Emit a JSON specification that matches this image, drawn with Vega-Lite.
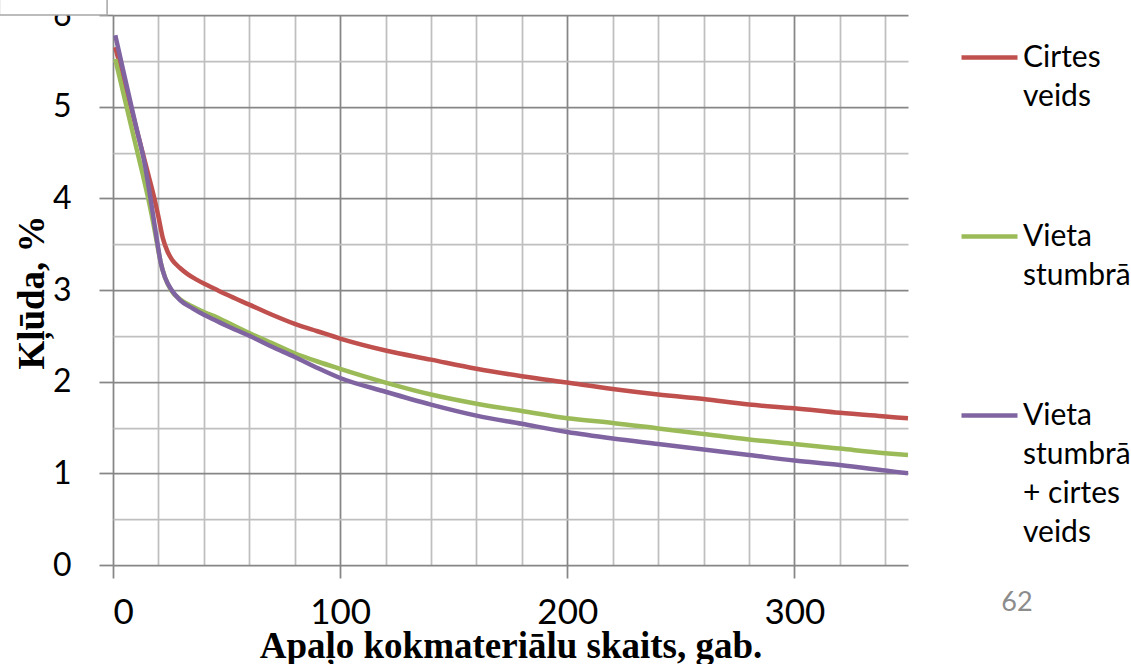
{
  "$schema": "https://vega.github.io/schema/vega-lite/v6.json",
  "width": 795,
  "height": 550,
  "autosize": "none",
  "padding": {"left": 113, "top": 15, "right": 223, "bottom": 99},
  "background": "white",
  "config": {
    "view": {"stroke": null},
    "axis": {
      "gridWidth": 1.75,
      "domain": false,
      "tickWidth": 1.75,
      "tickColor": "#868686",
      "labelFont": "Lato",
      "labelColor": "#000000",
      "titleFont": "Liberation Serif",
      "titleFontWeight": "bold",
      "titleColor": "#000000",
      "titleFontSize": 37
    }
  },
  "datasets": {
    "curves": [
      {"skaits": 1, "kluda": 5.65, "serija": "Cirtes veids"},
      {"skaits": 5, "kluda": 5.27, "serija": "Cirtes veids"},
      {"skaits": 10, "kluda": 4.79, "serija": "Cirtes veids"},
      {"skaits": 15, "kluda": 4.31, "serija": "Cirtes veids"},
      {"skaits": 18.4, "kluda": 3.98, "serija": "Cirtes veids"},
      {"skaits": 20, "kluda": 3.8, "serija": "Cirtes veids"},
      {"skaits": 22, "kluda": 3.56, "serija": "Cirtes veids"},
      {"skaits": 24, "kluda": 3.42, "serija": "Cirtes veids"},
      {"skaits": 26, "kluda": 3.33, "serija": "Cirtes veids"},
      {"skaits": 29.5, "kluda": 3.24, "serija": "Cirtes veids"},
      {"skaits": 33, "kluda": 3.17, "serija": "Cirtes veids"},
      {"skaits": 37, "kluda": 3.11, "serija": "Cirtes veids"},
      {"skaits": 40, "kluda": 3.07, "serija": "Cirtes veids"},
      {"skaits": 45, "kluda": 3.01, "serija": "Cirtes veids"},
      {"skaits": 50, "kluda": 2.95, "serija": "Cirtes veids"},
      {"skaits": 60, "kluda": 2.84, "serija": "Cirtes veids"},
      {"skaits": 70, "kluda": 2.73, "serija": "Cirtes veids"},
      {"skaits": 80, "kluda": 2.63, "serija": "Cirtes veids"},
      {"skaits": 90, "kluda": 2.55, "serija": "Cirtes veids"},
      {"skaits": 100, "kluda": 2.47, "serija": "Cirtes veids"},
      {"skaits": 120, "kluda": 2.34, "serija": "Cirtes veids"},
      {"skaits": 140, "kluda": 2.24, "serija": "Cirtes veids"},
      {"skaits": 160, "kluda": 2.14, "serija": "Cirtes veids"},
      {"skaits": 180, "kluda": 2.06, "serija": "Cirtes veids"},
      {"skaits": 200, "kluda": 1.99, "serija": "Cirtes veids"},
      {"skaits": 220, "kluda": 1.92, "serija": "Cirtes veids"},
      {"skaits": 240, "kluda": 1.86, "serija": "Cirtes veids"},
      {"skaits": 260, "kluda": 1.81, "serija": "Cirtes veids"},
      {"skaits": 280, "kluda": 1.75, "serija": "Cirtes veids"},
      {"skaits": 300, "kluda": 1.71, "serija": "Cirtes veids"},
      {"skaits": 320, "kluda": 1.66, "serija": "Cirtes veids"},
      {"skaits": 340, "kluda": 1.62, "serija": "Cirtes veids"},
      {"skaits": 350, "kluda": 1.6, "serija": "Cirtes veids"},

      {"skaits": 1, "kluda": 5.52, "serija": "Vieta stumbrā"},
      {"skaits": 5, "kluda": 5.1, "serija": "Vieta stumbrā"},
      {"skaits": 10, "kluda": 4.58, "serija": "Vieta stumbrā"},
      {"skaits": 13, "kluda": 4.27, "serija": "Vieta stumbrā"},
      {"skaits": 15.5, "kluda": 4.0, "serija": "Vieta stumbrā"},
      {"skaits": 17.5, "kluda": 3.76, "serija": "Vieta stumbrā"},
      {"skaits": 19.3, "kluda": 3.52, "serija": "Vieta stumbrā"},
      {"skaits": 21, "kluda": 3.3, "serija": "Vieta stumbrā"},
      {"skaits": 23, "kluda": 3.13, "serija": "Vieta stumbrā"},
      {"skaits": 25.5, "kluda": 3.0, "serija": "Vieta stumbrā"},
      {"skaits": 29.5, "kluda": 2.9, "serija": "Vieta stumbrā"},
      {"skaits": 35, "kluda": 2.82, "serija": "Vieta stumbrā"},
      {"skaits": 40, "kluda": 2.76, "serija": "Vieta stumbrā"},
      {"skaits": 45, "kluda": 2.71, "serija": "Vieta stumbrā"},
      {"skaits": 50, "kluda": 2.65, "serija": "Vieta stumbrā"},
      {"skaits": 60, "kluda": 2.53, "serija": "Vieta stumbrā"},
      {"skaits": 70, "kluda": 2.42, "serija": "Vieta stumbrā"},
      {"skaits": 80, "kluda": 2.31, "serija": "Vieta stumbrā"},
      {"skaits": 90, "kluda": 2.22, "serija": "Vieta stumbrā"},
      {"skaits": 100, "kluda": 2.14, "serija": "Vieta stumbrā"},
      {"skaits": 120, "kluda": 1.99, "serija": "Vieta stumbrā"},
      {"skaits": 140, "kluda": 1.86, "serija": "Vieta stumbrā"},
      {"skaits": 160, "kluda": 1.76, "serija": "Vieta stumbrā"},
      {"skaits": 180, "kluda": 1.68, "serija": "Vieta stumbrā"},
      {"skaits": 200, "kluda": 1.6, "serija": "Vieta stumbrā"},
      {"skaits": 220, "kluda": 1.55, "serija": "Vieta stumbrā"},
      {"skaits": 240, "kluda": 1.49, "serija": "Vieta stumbrā"},
      {"skaits": 260, "kluda": 1.43, "serija": "Vieta stumbrā"},
      {"skaits": 280, "kluda": 1.37, "serija": "Vieta stumbrā"},
      {"skaits": 300, "kluda": 1.32, "serija": "Vieta stumbrā"},
      {"skaits": 320, "kluda": 1.27, "serija": "Vieta stumbrā"},
      {"skaits": 340, "kluda": 1.22, "serija": "Vieta stumbrā"},
      {"skaits": 350, "kluda": 1.2, "serija": "Vieta stumbrā"},

      {"skaits": 1, "kluda": 5.78, "serija": "Vieta stumbrā + cirtes veids"},
      {"skaits": 5, "kluda": 5.34, "serija": "Vieta stumbrā + cirtes veids"},
      {"skaits": 10, "kluda": 4.8, "serija": "Vieta stumbrā + cirtes veids"},
      {"skaits": 14, "kluda": 4.37, "serija": "Vieta stumbrā + cirtes veids"},
      {"skaits": 16.5, "kluda": 4.0, "serija": "Vieta stumbrā + cirtes veids"},
      {"skaits": 18, "kluda": 3.76, "serija": "Vieta stumbrā + cirtes veids"},
      {"skaits": 19.5, "kluda": 3.52, "serija": "Vieta stumbrā + cirtes veids"},
      {"skaits": 21, "kluda": 3.3, "serija": "Vieta stumbrā + cirtes veids"},
      {"skaits": 23, "kluda": 3.13, "serija": "Vieta stumbrā + cirtes veids"},
      {"skaits": 25.8, "kluda": 3.0, "serija": "Vieta stumbrā + cirtes veids"},
      {"skaits": 29.5, "kluda": 2.89, "serija": "Vieta stumbrā + cirtes veids"},
      {"skaits": 35, "kluda": 2.8, "serija": "Vieta stumbrā + cirtes veids"},
      {"skaits": 40, "kluda": 2.73, "serija": "Vieta stumbrā + cirtes veids"},
      {"skaits": 45, "kluda": 2.67, "serija": "Vieta stumbrā + cirtes veids"},
      {"skaits": 50, "kluda": 2.61, "serija": "Vieta stumbrā + cirtes veids"},
      {"skaits": 60, "kluda": 2.5, "serija": "Vieta stumbrā + cirtes veids"},
      {"skaits": 70, "kluda": 2.38, "serija": "Vieta stumbrā + cirtes veids"},
      {"skaits": 80, "kluda": 2.27, "serija": "Vieta stumbrā + cirtes veids"},
      {"skaits": 90, "kluda": 2.15, "serija": "Vieta stumbrā + cirtes veids"},
      {"skaits": 100, "kluda": 2.04, "serija": "Vieta stumbrā + cirtes veids"},
      {"skaits": 120, "kluda": 1.89, "serija": "Vieta stumbrā + cirtes veids"},
      {"skaits": 140, "kluda": 1.75, "serija": "Vieta stumbrā + cirtes veids"},
      {"skaits": 160, "kluda": 1.63, "serija": "Vieta stumbrā + cirtes veids"},
      {"skaits": 180, "kluda": 1.54, "serija": "Vieta stumbrā + cirtes veids"},
      {"skaits": 200, "kluda": 1.45, "serija": "Vieta stumbrā + cirtes veids"},
      {"skaits": 220, "kluda": 1.38, "serija": "Vieta stumbrā + cirtes veids"},
      {"skaits": 240, "kluda": 1.32, "serija": "Vieta stumbrā + cirtes veids"},
      {"skaits": 260, "kluda": 1.26, "serija": "Vieta stumbrā + cirtes veids"},
      {"skaits": 280, "kluda": 1.2, "serija": "Vieta stumbrā + cirtes veids"},
      {"skaits": 300, "kluda": 1.14, "serija": "Vieta stumbrā + cirtes veids"},
      {"skaits": 320, "kluda": 1.09, "serija": "Vieta stumbrā + cirtes veids"},
      {"skaits": 340, "kluda": 1.03, "serija": "Vieta stumbrā + cirtes veids"},
      {"skaits": 350, "kluda": 1.0, "serija": "Vieta stumbrā + cirtes veids"}
    ]
  },
  "layer": [
    {
      "data": {"name": "curves"},
      "mark": {"type": "line", "interpolate": "monotone", "strokeWidth": 4.5},
      "encoding": {
        "x": {
          "field": "skaits",
          "type": "quantitative",
          "scale": {"domain": [0, 350], "nice": false, "zero": false},
          "axis": {
            "title": "Apaļo kokmateriālu skaits, gab.",
            "values": [0, 20, 40, 60, 80, 100, 120, 140, 160, 180, 200, 220, 240, 260, 280, 300, 320, 340],
            "labelExpr": "datum.value % 100 === 0 ? datum.label : ''",
            "labelFontSize": 35,
            "labelPadding": 17,
            "labelBaseline": "top",
            "tickSize": 13,
            "tickOpacity": {"condition": {"test": "datum.value % 100 === 0", "value": 1}, "value": 0},
            "gridColor": {"condition": {"test": "datum.value % 100 === 0", "value": "#868686"}, "value": "#BFBFBF"},
            "titleBaseline": "alphabetic",
            "titleY": 92,
            "titlePadding": 0
          }
        },
        "y": {
          "field": "kluda",
          "type": "quantitative",
          "scale": {"domain": [0, 6], "nice": false},
          "axis": {
            "title": "Kļūda, %",
            "values": [0, 0.5, 1, 1.5, 2, 2.5, 3, 3.5, 4, 4.5, 5, 5.5, 6],
            "labelExpr": "datum.value % 1 === 0 ? format(datum.value, 'd') : ''",
            "labelFontSize": 32,
            "labelPadding": 28,
            "tickSize": 14,
            "tickOpacity": {"condition": {"test": "datum.value % 1 === 0", "value": 1}, "value": 0},
            "gridColor": {"condition": {"test": "datum.value % 1 === 0", "value": "#868686"}, "value": "#BFBFBF"},
            "titleBaseline": "alphabetic",
            "titleAngle": -90,
            "titleX": -70,
            "titleY": 277
          }
        },
        "color": {
          "field": "serija",
          "type": "nominal",
          "scale": {
            "domain": ["Cirtes veids", "Vieta stumbrā", "Vieta stumbrā + cirtes veids"],
            "range": ["#C0504D", "#9BBB59", "#8064A2"]
          },
          "legend": {
            "title": null,
            "orient": "none",
            "legendX": 846,
            "legendY": 12,
            "symbolType": "stroke",
            "symbolSize": 3136,
            "symbolStrokeWidth": 4.5,
            "labelFont": "Lato",
            "labelFontSize": 30,
            "labelColor": "#000000",
            "labelOffset": 3,
            "labelLimit": 0,
            "rowPadding": 94,
            "labelExpr": "datum.label === 'Vieta stumbrā + cirtes veids' ? ['Vieta', 'stumbrā', '+ cirtes', 'veids'] : split(datum.label, ' ')",
            "encode": {"labels": {"update": {"lineHeight": {"value": 39}}}}
          }
        }
      }
    },
    {
      "data": {"values": [{}]},
      "mark": {"type": "rect", "fill": "white", "stroke": "#A6A6A6", "strokeWidth": 1.5},
      "encoding": {
        "x": {"datum": -50},
        "x2": {"datum": -2.6},
        "y": {"datum": 6.0},
        "y2": {"datum": 6.3}
      }
    },
    {
      "data": {"values": [{}]},
      "mark": {"type": "text", "text": "62", "font": "Lato", "fontSize": 27, "color": "#8C8C8C"},
      "encoding": {
        "x": {"datum": 398},
        "y": {"datum": -0.41}
      }
    }
  ]
}
